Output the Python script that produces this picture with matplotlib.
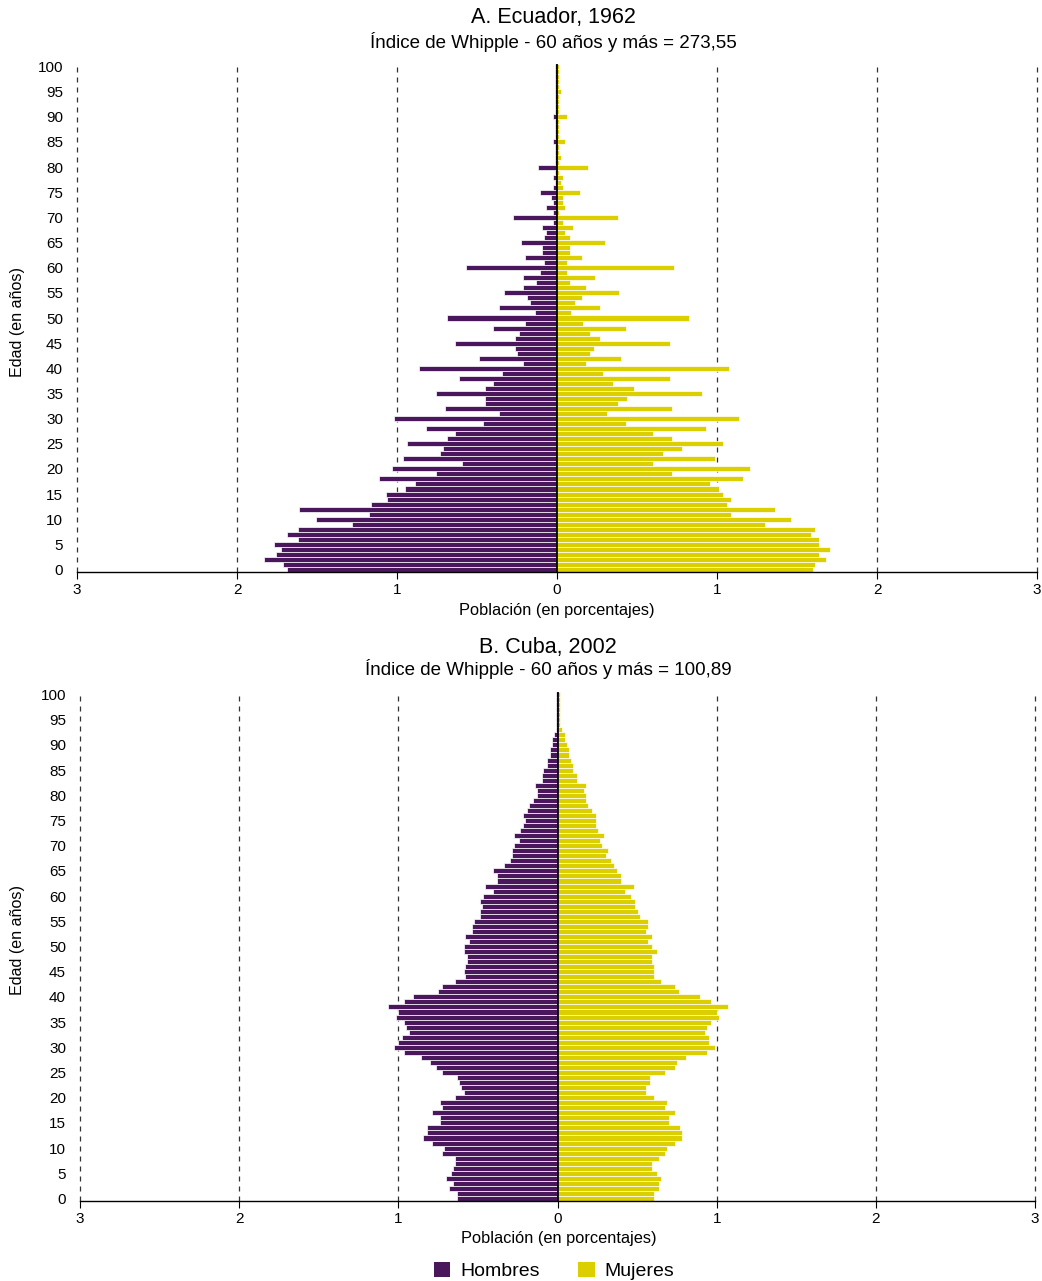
import matplotlib.pyplot as plt
from matplotlib.patches import Patch
import numpy as np

plt.rcParams['font.family'] = ['Liberation Sans', 'DejaVu Sans']

ages = np.arange(0, 101)

# A. Ecuador, 1962 (porcentajes por edad simple)
ecu_hombres = [1.69, 1.71, 1.83, 1.755, 1.725, 1.77, 1.62, 1.69, 1.62, 1.28,
               1.505, 1.175, 1.61, 1.16, 1.06, 1.07, 0.95, 0.89, 1.11, 0.755,
               1.03, 0.595, 0.96, 0.73, 0.71, 0.94, 0.69, 0.635, 0.82, 0.46,
               1.02, 0.36, 0.70, 0.45, 0.45, 0.755, 0.45, 0.40, 0.61, 0.345,
               0.86, 0.21, 0.49, 0.25, 0.265, 0.635, 0.265, 0.24, 0.40, 0.20,
               0.69, 0.135, 0.36, 0.17, 0.187, 0.33, 0.21, 0.133, 0.21, 0.106,
               0.566, 0.081, 0.20, 0.093, 0.093, 0.224, 0.081, 0.066, 0.093, 0.027,
               0.276, 0.027, 0.066, 0.027, 0.04, 0.106, 0.027, 0.012, 0.027, 0.012,
               0.12, 0.012, 0.012, 0.012, 0.012, 0.027, 0.012, 0.012, 0.012, 0.012,
               0.027, 0.012, 0.012, 0.012, 0.012, 0.012, 0.012, 0.012, 0.012, 0.012,
               0.012]
ecu_mujeres = [1.60, 1.61, 1.68, 1.64, 1.705, 1.64, 1.64, 1.59, 1.61, 1.30,
               1.46, 1.09, 1.36, 1.06, 1.09, 1.04, 1.01, 0.955, 1.16, 0.72,
               1.205, 0.60, 0.99, 0.66, 0.78, 1.04, 0.72, 0.60, 0.93, 0.43,
               1.14, 0.31, 0.72, 0.38, 0.44, 0.905, 0.48, 0.35, 0.705, 0.285,
               1.075, 0.18, 0.40, 0.205, 0.23, 0.705, 0.27, 0.205, 0.43, 0.165,
               0.825, 0.085, 0.27, 0.11, 0.156, 0.39, 0.18, 0.079, 0.237, 0.062,
               0.734, 0.062, 0.156, 0.079, 0.079, 0.30, 0.079, 0.048, 0.10, 0.035,
               0.38, 0.012, 0.048, 0.035, 0.035, 0.143, 0.035, 0.023, 0.035, 0.012,
               0.195, 0.012, 0.023, 0.012, 0.012, 0.048, 0.012, 0.012, 0.012, 0.012,
               0.062, 0.012, 0.012, 0.012, 0.012, 0.023, 0.012, 0.012, 0.012, 0.012,
               0.012]

# B. Cuba, 2002
cuba_hombres = [0.63, 0.63, 0.683, 0.656, 0.698, 0.67, 0.658, 0.646, 0.646, 0.723,
                0.71, 0.79, 0.845, 0.818, 0.818, 0.736, 0.736, 0.79, 0.723, 0.736,
                0.644, 0.59, 0.604, 0.618, 0.63, 0.723, 0.765, 0.80, 0.855, 0.962,
                1.03, 1.0, 0.975, 0.935, 0.95, 0.962, 1.017, 1.0, 1.067, 0.962,
                0.908, 0.75, 0.723, 0.644, 0.579, 0.59, 0.579, 0.566, 0.566, 0.59,
                0.59, 0.553, 0.579, 0.539, 0.539, 0.526, 0.486, 0.486, 0.474, 0.486,
                0.47, 0.405, 0.457, 0.377, 0.377, 0.405, 0.338, 0.298, 0.285, 0.285,
                0.273, 0.245, 0.273, 0.233, 0.218, 0.205, 0.218, 0.193, 0.178, 0.153,
                0.128, 0.128, 0.14, 0.10, 0.10, 0.088, 0.063, 0.063, 0.048, 0.048,
                0.036, 0.036, 0.023, 0.01, 0.008, 0.008, 0.008, 0.008, 0.008, 0.008,
                0.008]
cuba_mujeres = [0.608, 0.608, 0.635, 0.635, 0.648, 0.623, 0.595, 0.595, 0.635, 0.675,
                0.688, 0.74, 0.78, 0.78, 0.767, 0.70, 0.70, 0.74, 0.675, 0.688,
                0.608, 0.556, 0.556, 0.58, 0.58, 0.675, 0.74, 0.753, 0.805, 0.937,
                0.99, 0.95, 0.95, 0.925, 0.937, 0.962, 1.015, 1.002, 1.07, 0.962,
                0.897, 0.765, 0.74, 0.648, 0.608, 0.608, 0.608, 0.595, 0.595, 0.623,
                0.595, 0.568, 0.595, 0.556, 0.568, 0.568, 0.516, 0.503, 0.49, 0.49,
                0.463, 0.426, 0.478, 0.40, 0.40, 0.373, 0.358, 0.333, 0.306, 0.32,
                0.281, 0.268, 0.293, 0.256, 0.241, 0.241, 0.241, 0.216, 0.189, 0.176,
                0.176, 0.164, 0.176, 0.124, 0.124, 0.096, 0.096, 0.084, 0.071, 0.071,
                0.059, 0.044, 0.044, 0.031, 0.017, 0.017, 0.017, 0.017, 0.017, 0.017,
                0.017]

xticks = [-3, -2, -1, 0, 1, 2, 3]
xticklabels = ['3', '2', '1', '0', '1', '2', '3']
yticks = list(range(0, 101, 5))

purple = '#4a175c'
yellow = '#dccf00'

W, H = 1042, 1281
fig = plt.figure(figsize=(W / 100, H / 100), dpi=100)


def px(x, y):
    return x / W, 1 - y / H


def pyramid(left, right, top, bottom, men, women):
    ax = fig.add_axes([left / W, 1 - bottom / H, (right - left) / W, (bottom - top) / H])
    ax.barh(ages, -np.array(men), height=1, color=purple, edgecolor='white', linewidth=0.5, zorder=2)
    ax.barh(ages, women, height=1, color=yellow, edgecolor='white', linewidth=0.5, zorder=2)
    ax.axvline(0, color='black', lw=1.3, zorder=3)
    for gx in [-3, -2, -1, 1, 2, 3]:
        ax.axvline(gx, color='#333333', lw=0.9, ls=(0, (4, 4)), zorder=1, clip_on=False)
    ax.set_xlim(-3, 3)
    ax.set_ylim(-0.5, 100.5)
    ax.set_xticks(xticks)
    ax.set_xticklabels(xticklabels)
    ax.set_yticks(yticks)
    for s in ['top', 'right', 'left']:
        ax.spines[s].set_visible(False)
    ax.spines['bottom'].set_linewidth(1.0)
    ax.tick_params(axis='x', length=5, width=0.8, pad=3, labelsize=11)
    ax.tick_params(axis='y', length=0, pad=10, labelsize=11)
    return ax


axA = pyramid(77, 1037, 64, 572, ecu_hombres, ecu_mujeres)
axB = pyramid(80, 1035, 692, 1201, cuba_hombres, cuba_mujeres)

fig.text(*px(553, 17), 'A. Ecuador, 1962', ha='center', va='center', fontsize=15.5)
fig.text(*px(553, 42), 'Índice de Whipple - 60 años y más = 273,55', ha='center', va='center', fontsize=13.5)
fig.text(*px(557, 611), 'Población (en porcentajes)', ha='center', va='center', fontsize=11.8)
fig.text(*px(18, 322), 'Edad (en años)', ha='center', va='center', rotation=90, fontsize=11.6)

fig.text(*px(548, 647), 'B. Cuba, 2002', ha='center', va='center', fontsize=15.5)
fig.text(*px(548, 669), 'Índice de Whipple - 60 años y más = 100,89', ha='center', va='center', fontsize=13.5)
fig.text(*px(559, 1239), 'Población (en porcentajes)', ha='center', va='center', fontsize=11.8)
fig.text(*px(18, 940), 'Edad (en años)', ha='center', va='center', rotation=90, fontsize=11.6)

handles = [Patch(facecolor=purple, label='Hombres'), Patch(facecolor=yellow, label='Mujeres')]
fig.legend(handles=handles, loc='center', bbox_to_anchor=px(554, 1271), ncol=2, frameon=False,
           fontsize=14, handlelength=0.85, handleheight=0.85, handletextpad=0.5, columnspacing=2.0,
           borderaxespad=0)

fig.savefig('out.png', dpi=100)
